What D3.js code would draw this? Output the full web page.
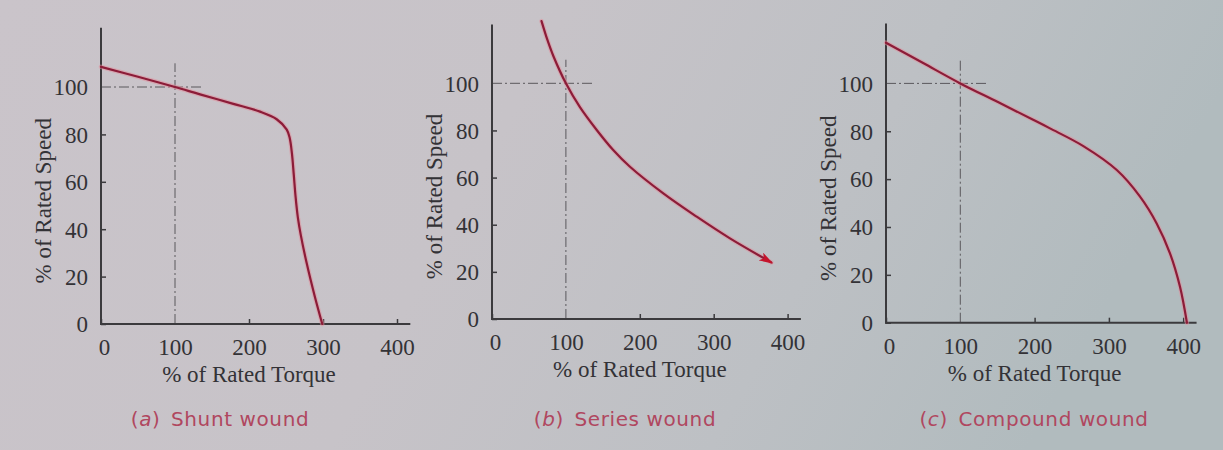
<!DOCTYPE html>
<html><head><meta charset="utf-8">
<script src="https://cdn.jsdelivr.net/npm/d3@7"></script>
<style>html,body{margin:0;padding:0;overflow:hidden;} svg{display:block;}</style>
</head><body>
<svg id="c" width="1223" height="450"></svg>
<script>
// ---- data ----
const xTicks = [0, 100, 200, 300, 400];
const yTicks = [0, 20, 40, 60, 80, 100];
const xTitle = "% of Rated Torque";
const yTitle = "% of Rated Speed";
const captionLetters = ["a", "b", "c"];
const captionNames = ["Shunt wound", "Series wound", "Compound wound"];

const shuntTorque = [0, 50, 100, 133.8, 178.8, 214.9, 237.4, 251, 255, 258, 260.5, 263, 266, 270, 278, 289, 299];
const shuntSpeed  = [108.5, 104.3, 100, 96.9, 92.9, 89.6, 86.4, 82, 78.5, 72, 63, 53.5, 45, 37.5, 25.6, 11.5, 0];

const seriesTorque = [67, 75, 83, 100, 119, 141.7, 164, 186.7, 231.8, 277, 322, 378];
const seriesSpeed  = [126.4, 118.4, 111.6, 100, 89.9, 80.2, 71.7, 64.6, 53.3, 43.4, 34.2, 24];

const compoundTorque = [0, 50, 100, 150, 198, 220.7, 265.6, 310.6, 341.9, 364.3, 382.2, 395.7, 405];
const compoundSpeed  = [117, 108.5, 100, 92.3, 84.8, 81.2, 73.8, 63.8, 52.7, 41.5, 29, 15, 0];

const refTorque = 100, refSpeed = 100;   // rated point
const refHEnd = 137, refVTop = 110;

// ---- layout ----
const W = 1223, H = 450;
const svg = d3.select("#c");
const defs = svg.append("defs");
const grad = defs.append("linearGradient").attr("id", "bg").attr("x1", "0").attr("x2", "1").attr("y1", "0").attr("y2", "0.2");
grad.append("stop").attr("offset", "0").attr("stop-color", "#cac4ca");
grad.append("stop").attr("offset", "0.45").attr("stop-color", "#c7c3c8");
grad.append("stop").attr("offset", "0.75").attr("stop-color", "#bdc0c4");
grad.append("stop").attr("offset", "1").attr("stop-color", "#b1bbbe");
svg.append("rect").attr("width", W).attr("height", H).attr("fill", "url(#bg)");

defs.append("marker").attr("id", "arrow").attr("viewBox", "0 0 14 9")
  .attr("refX", 12).attr("refY", 4.5).attr("markerWidth", 14).attr("markerHeight", 9)
  .attr("markerUnits", "userSpaceOnUse").attr("orient", "auto")
  .append("path").attr("d", "M0,0 L14,4.5 L0,9 L3.5,4.5 Z").attr("fill", "#c4142c");

const panels = [
  {x0: 101, y0: 324, px100x: 74.0, px100y: 237, T: shuntTorque, S: shuntSpeed, cap: 220, arrow: false},
  {x0: 492, y0: 319, px100x: 73.9, px100y: 235.7, T: seriesTorque, S: seriesSpeed, cap: 625, arrow: true},
  {x0: 886, y0: 322.7, px100x: 74.3, px100y: 239.3, T: compoundTorque, S: compoundSpeed, cap: 1034, arrow: false}
];

const serif = "'Liberation Serif','Times New Roman',serif";
const axisColor = "#3b3a3d";
const textColor = "#333236";

panels.forEach((p, i) => {
  const x = d3.scaleLinear().domain([0, 100]).range([p.x0, p.x0 + p.px100x]);
  const y = d3.scaleLinear().domain([0, 100]).range([p.y0, p.y0 - p.px100y]);
  const g = svg.append("g");

  // reference dash-dot lines
  g.append("line").attr("x1", x(0)).attr("x2", x(refHEnd)).attr("y1", y(refSpeed)).attr("y2", y(refSpeed))
    .attr("stroke", "#5a585c").attr("stroke-width", 1).attr("stroke-dasharray", "10,3,2,3");
  g.append("line").attr("x1", x(refTorque)).attr("x2", x(refTorque)).attr("y1", y(0)).attr("y2", y(refVTop))
    .attr("stroke", "#5a585c").attr("stroke-width", 1).attr("stroke-dasharray", "10,3,2,3");

  // axes
  const xAxis = d3.axisBottom(x).tickValues(xTicks).tickSizeInner(-5).tickSizeOuter(0).tickPadding(10);
  const yAxis = d3.axisLeft(y).tickValues(yTicks).tickSizeInner(-5).tickSizeOuter(0).tickPadding(13);
  const gx = g.append("g").attr("transform", `translate(0,${p.y0})`).call(xAxis);
  const gy = g.append("g").attr("transform", `translate(${p.x0},0)`).call(yAxis);
  [gx, gy].forEach(a => {
    a.select(".domain").remove();
    a.selectAll(".tick line").attr("stroke", axisColor).attr("stroke-width", 1.5);
    a.selectAll(".tick text").attr("fill", textColor).style("font-family", serif).style("font-size", "23px");
  });
  gx.selectAll(".tick text").attr("dy", "0.92em").filter(d => d === 0).attr("dx", 3);
  gy.selectAll(".tick text").attr("dy", "0.34em");
  gy.selectAll(".tick").filter(d => d === 100).select("line").remove();
  gx.selectAll(".tick").filter(d => d === 100).select("line").remove();
  // axis lines extend beyond ticks
  g.append("line").attr("x1", x(-1)).attr("x2", x(418)).attr("y1", y(0)).attr("y2", y(0))
    .attr("stroke", axisColor).attr("stroke-width", 2);
  g.append("line").attr("x1", x(0)).attr("x2", x(0)).attr("y1", y(0) + 1).attr("y2", y(125))
    .attr("stroke", axisColor).attr("stroke-width", 2);

  // curve
  const pts = p.T.map((t, k) => [t, p.S[k]]);
  const line = d3.line().x(d => x(d[0])).y(d => y(d[1])).curve(d3.curveCatmullRom.alpha(0.5));
  g.append("path").attr("d", line(pts)).attr("fill", "none")
    .attr("stroke", "#e0909c").attr("stroke-width", 4.5).attr("stroke-opacity", 0.55)
    .attr("stroke-linecap", "round");
  const main = g.append("path").attr("d", line(pts)).attr("fill", "none")
    .attr("stroke", "#8c1c38").attr("stroke-width", 2.2).attr("stroke-linecap", "round");
  if (p.arrow) main.attr("marker-end", "url(#arrow)");

  // axis titles
  g.append("text").attr("x", x(200)).attr("y", p.y0 + 58).attr("text-anchor", "middle")
    .attr("fill", textColor).style("font-family", serif).style("font-size", "23px").text(xTitle);
  g.append("text").attr("transform", `translate(${p.x0 - 50},${y(52)}) rotate(-90)`).attr("text-anchor", "middle")
    .attr("fill", textColor).style("font-family", serif).style("font-size", "23px").text(yTitle);

  // caption
  const cap = g.append("text").attr("x", p.cap).attr("y", 426).attr("text-anchor", "middle")
    .attr("fill", "#b0475f").style("font-family", "'DejaVu Sans',sans-serif").style("font-size", "20px")
    .style("letter-spacing", "0.6px");
  cap.append("tspan").text("(");
  cap.append("tspan").style("font-style", "italic").text(captionLetters[i]);
  cap.append("tspan").text(")\u2002" + captionNames[i]);
});
</script>
</body></html>
